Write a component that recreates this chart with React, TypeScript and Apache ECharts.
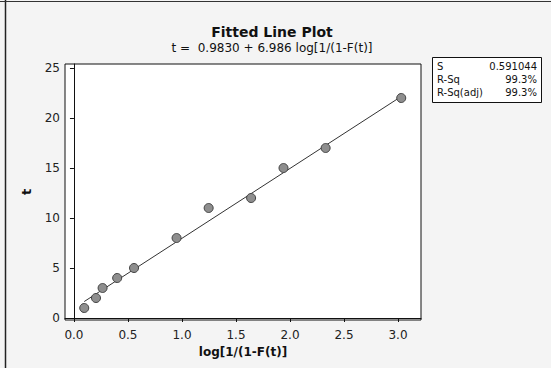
import React, { useEffect, useRef } from "react";
import * as echarts from "echarts";

const xValues = [0.095, 0.204, 0.265, 0.4, 0.556, 0.95, 1.247, 1.64, 1.94, 2.33, 3.03];
const tValues = [1, 2, 3, 4, 5, 8, 11, 12, 15, 17, 22];
const xTicks = [0, 0.5, 1.0, 1.5, 2.0, 2.5, 3.0];
const yTicks = [0, 5, 10, 15, 20, 25];
const intercept = 0.983;
const slope = 6.986;
const statLabels = ["S", "R-Sq", "R-Sq(adj)"];
const statValues = ["0.591044", "99.3%", "99.3%"];

export default function App() {
  const ref = useRef<HTMLDivElement>(null);
  useEffect(() => {
    if (!ref.current) return;
    const chart = echarts.init(ref.current, null, { renderer: "svg" });
    const font = "'DejaVu Sans', Verdana, sans-serif";
    const points = xValues.map((x, i) => [x, tValues[i]]);
    const xMin = Math.min(...xValues);
    const xMax = Math.max(...xValues);
    const fitLine = [
      [xMin, intercept + slope * xMin],
      [xMax, intercept + slope * xMax],
    ];
    const boxX = 432, boxY = 57, boxW = 109, boxH = 45;
    const statTexts: any[] = [];
    statLabels.forEach((l, i) => {
      statTexts.push({
        type: "text",
        x: boxX + 5,
        y: boxY + 9 + i * 13,
        style: { text: l, font: `10px ${font}`, fill: "#111", verticalAlign: "middle", textAlign: "left" },
      });
      statTexts.push({
        type: "text",
        x: boxX + boxW - 4,
        y: boxY + 9 + i * 13,
        style: { text: statValues[i], font: `10px ${font}`, fill: "#111", verticalAlign: "middle", textAlign: "right" },
      });
    });
    chart.setOption({
      animation: false,
      backgroundColor: "#f4f4f4",
      title: {
        text: "Fitted Line Plot",
        subtext: "t =  0.9830 + 6.986 log[1/(1-F(t)]",
        left: 267,
        textAlign: "center",
        top: 20,
        itemGap: 3,
        textStyle: { fontFamily: font, fontWeight: "bold", fontSize: 14, color: "#111" },
        subtextStyle: { fontFamily: font, fontSize: 12, color: "#111" },
      },
      grid: {
        left: 65,
        top: 64,
        width: 356,
        height: 256,
        show: true,
        backgroundColor: "#ffffff",
        borderColor: "#111",
        borderWidth: 1,
      },
      xAxis: {
        type: "value",
        min: -0.083,
        max: 3.213,
        name: "log[1/(1-F(t)]",
        nameLocation: "middle",
        nameGap: 26,
        nameTextStyle: { fontFamily: font, fontWeight: "bold", fontSize: 12, color: "#111" },
        axisLine: { show: true, lineStyle: { color: "#111" } },
        axisTick: { show: true, length: 4, lineStyle: { color: "#111" }, customValues: xTicks },
        axisLabel: {
          fontFamily: font,
          fontSize: 12,
          color: "#222",
          margin: 9,
          customValues: xTicks,
          formatter: (v: number) => v.toFixed(1),
        },
        splitLine: { show: false },
      },
      yAxis: {
        type: "value",
        min: -0.2,
        max: 25.4,
        name: "t",
        nameLocation: "middle",
        nameGap: 32,
        nameRotate: 90,
        nameTextStyle: { fontFamily: font, fontWeight: "bold", fontSize: 13, color: "#111" },
        axisLine: { show: true, lineStyle: { color: "#111" } },
        axisTick: { show: true, length: 4, lineStyle: { color: "#111" }, customValues: yTicks },
        axisLabel: {
          fontFamily: font,
          fontSize: 12,
          color: "#222",
          margin: 5,
          customValues: yTicks,
          formatter: (v: number) => String(Math.round(v)),
        },
        splitLine: { show: false },
      },
      series: [
        {
          type: "line",
          data: fitLine,
          symbol: "none",
          lineStyle: { color: "#333", width: 1 },
          silent: true,
          z: 2,
        },
        {
          type: "scatter",
          data: points,
          symbol: "circle",
          symbolSize: 9,
          itemStyle: { color: "#8e8e8e", borderColor: "#444", borderWidth: 1, opacity: 1 },
          z: 3,
        },
      ],
      graphic: [
        {
          type: "line",
          shape: { x1: 5.5, y1: 0, x2: 5.5, y2: 368 },
          style: { stroke: "#222", lineWidth: 1.5 },
        },
        {
          type: "line",
          shape: { x1: 0, y1: 1.5, x2: 551, y2: 1.5 },
          style: { stroke: "#333", lineWidth: 1 },
        },
        {
          type: "rect",
          shape: { x: boxX + 0.5, y: boxY + 0.5, width: boxW, height: boxH },
          style: { fill: "#ffffff", stroke: "#111", lineWidth: 1 },
        },
        ...statTexts,
      ],
    });
    return () => chart.dispose();
  }, []);
  return (
    <div
      ref={ref}
      style={{ position: "fixed", left: 0, top: 0, width: 551, height: 368 }}
    />
  );
}
